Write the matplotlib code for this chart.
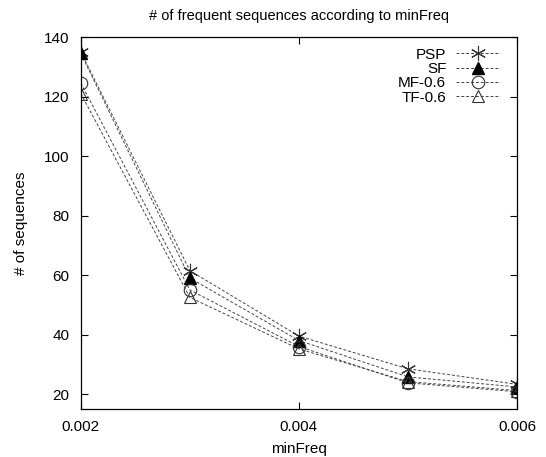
import matplotlib
matplotlib.use("Agg")
import matplotlib.pyplot as plt

# values
min_freq = [0.002, 0.003, 0.004, 0.005, 0.006]
psp = [135, 61.5, 39.5, 28.5, 23.3]
sf = [134.5, 59, 38, 25.8, 22.4]
mf = [124.5, 55, 36, 23.8, 20.8]
tf = [121, 52.5, 35.2, 24.2, 21.2]

x_ticks = [0.002, 0.004, 0.006]
y_ticks = [20, 40, 60, 80, 100, 120, 140]

plt.rcParams["font.family"] = ["Liberation Sans", "DejaVu Sans"]

fig = plt.figure(figsize=(5.46, 4.57), dpi=100)
ax = fig.add_axes([0.148, 0.105, 0.799, 0.814])

line_kw = dict(color="#444444", linestyle=(0, (3, 2)), linewidth=0.7)
ax.plot(min_freq, psp, marker=(6, 2, 0), markersize=11, markeredgecolor="#333333",
        markeredgewidth=0.8, label="PSP", **line_kw)
ax.plot(min_freq, sf, marker="^", markersize=9, markerfacecolor="black",
        markeredgecolor="black", label="SF", **line_kw)
ax.plot(min_freq, mf, marker="o", markersize=9, markerfacecolor="none",
        markeredgecolor="#333333", markeredgewidth=0.8, label="MF-0.6", **line_kw)
ax.plot(min_freq, tf, marker="^", markersize=9, markerfacecolor="none",
        markeredgecolor="#333333", markeredgewidth=0.8, label="TF-0.6", **line_kw)

ax.set_xlim(0.002, 0.006)
ax.set_ylim(15, 140)
ax.set_xticks(x_ticks)
ax.set_xticklabels([f"{v:.3f}" for v in x_ticks])
ax.set_yticks(y_ticks)
ax.tick_params(direction="in", top=True, right=True, length=5, width=0.8,
               labelsize=11, pad=8)
for s in ax.spines.values():
    s.set_linewidth(0.9)

ax.set_title("# of frequent sequences according to minFreq", fontsize=10.5, pad=12)
ax.set_xlabel("minFreq", fontsize=11, labelpad=6)
ax.set_ylabel("# of sequences", fontsize=11, labelpad=12)

ax.legend(loc="upper right", frameon=False, markerfirst=False, fontsize=11,
          handlelength=2.9, handletextpad=0.6, labelspacing=0.02,
          borderaxespad=0.3, bbox_to_anchor=(0.985, 1.0))

fig.savefig("out.png", dpi=100, facecolor="white")
